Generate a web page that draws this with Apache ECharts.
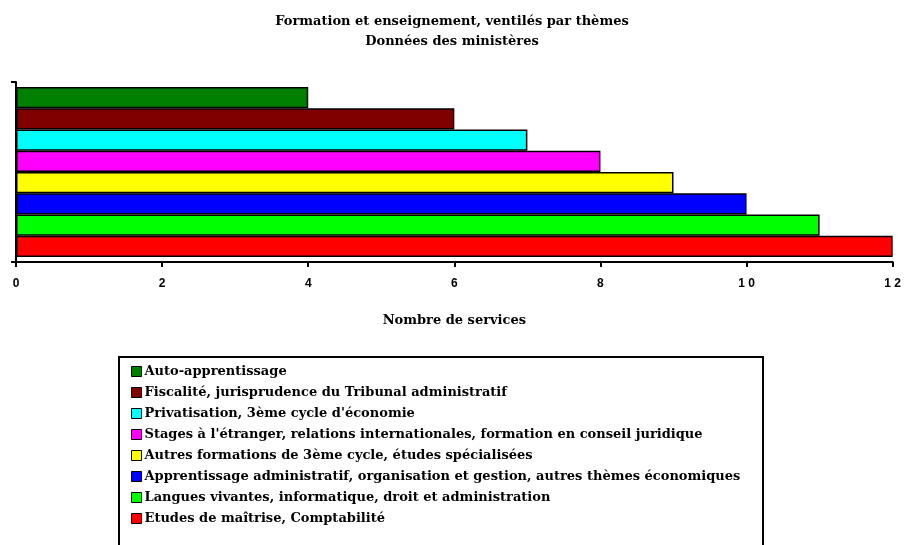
<!DOCTYPE html>
<html>
<head>
<meta charset="utf-8">
<script src="https://cdn.jsdelivr.net/npm/echarts@6/dist/echarts.min.js"></script>
<style>
  html, body { margin: 0; padding: 0; background: #fff; }
  #chart { width: 904px; height: 545px; }
</style>
</head>
<body>
<div id="chart"></div>
<script>
// thèmes, du haut vers le bas comme dans la légende
const themes = [
  'Auto-apprentissage',
  'Fiscalité, jurisprudence du Tribunal administratif',
  'Privatisation, 3ème cycle d\'économie',
  'Stages à l\'étranger, relations internationales, formation en conseil juridique',
  'Autres formations de 3ème cycle, études spécialisées',
  'Apprentissage administratif, organisation et gestion, autres thèmes économiques',
  'Langues vivantes, informatique, droit et administration',
  'Etudes de maîtrise, Comptabilité'
];
const services = [4, 6, 7, 8, 9, 10, 11, 12];
const colors = ['#008000', '#800000', '#00ffff', '#ff00ff', '#ffff00', '#0000ff', '#00ff00', '#ff0000'];
const xTicks = [0, 2, 4, 6, 8, 10, 12];

const chart = echarts.init(document.getElementById('chart'));

const serifBold = { fontFamily: 'DejaVu Serif', fontWeight: 'bold', color: '#000' };

const series = themes.map(function (name, i) {
  return {
    name: name,
    type: 'bar',
    data: [services[i]],
    barGap: 0,
    barCategoryGap: '5.5%',
    itemStyle: { color: colors[i], borderColor: '#000', borderWidth: 1.5 }
  };
});

const option = {
  animation: false,
  backgroundColor: '#fff',
  title: {
    text: 'Formation et enseignement, ventilés par thèmes\nDonnées des ministères',
    left: 'center',
    top: 7,
    textStyle: Object.assign({ fontSize: 13, lineHeight: 20 }, serifBold)
  },
  grid: { left: 16, right: 11, top: 82, bottom: 283 },
  xAxis: {
    type: 'value',
    min: 0,
    max: 12,
    interval: 2,
    name: 'Nombre de services',
    nameLocation: 'middle',
    nameGap: 52,
    nameTextStyle: Object.assign({ fontSize: 13 }, serifBold),
    axisLine: { show: true, lineStyle: { color: '#000', width: 2 } },
    axisTick: { show: true, length: 5, lineStyle: { color: '#000', width: 2 } },
    axisLabel: {
      margin: 16,
      fontFamily: 'Liberation Sans',
      fontWeight: 'bold',
      fontSize: 12,
      color: '#000',
      formatter: function (v) { return xTicks.indexOf(v) >= 0 ? String(v).split('').join(' ') : ''; }
    },
    splitLine: { show: false }
  },
  yAxis: {
    type: 'category',
    data: [''],
    inverse: true,
    axisLine: { show: true, lineStyle: { color: '#000', width: 2 } },
    axisTick: { show: true, length: 5, lineStyle: { color: '#000', width: 2 } },
    axisLabel: { show: false }
  },
  legend: {
    orient: 'vertical',
    left: 126,
    top: 360,
    itemWidth: 10,
    itemHeight: 10,
    itemGap: 8,
    icon: 'rect',
    data: themes,
    itemStyle: { borderColor: '#000', borderWidth: 1 },
    textStyle: Object.assign({ fontSize: 13, padding: [0, 0, 0, -2] }, serifBold)
  },
  graphic: [{
    type: 'rect',
    shape: { x: 119, y: 357, width: 644, height: 200 },
    style: { fill: 'none', stroke: '#000', lineWidth: 2 },
    silent: true
  }],
  series: series
};

chart.setOption(option);
</script>
</body>
</html>
